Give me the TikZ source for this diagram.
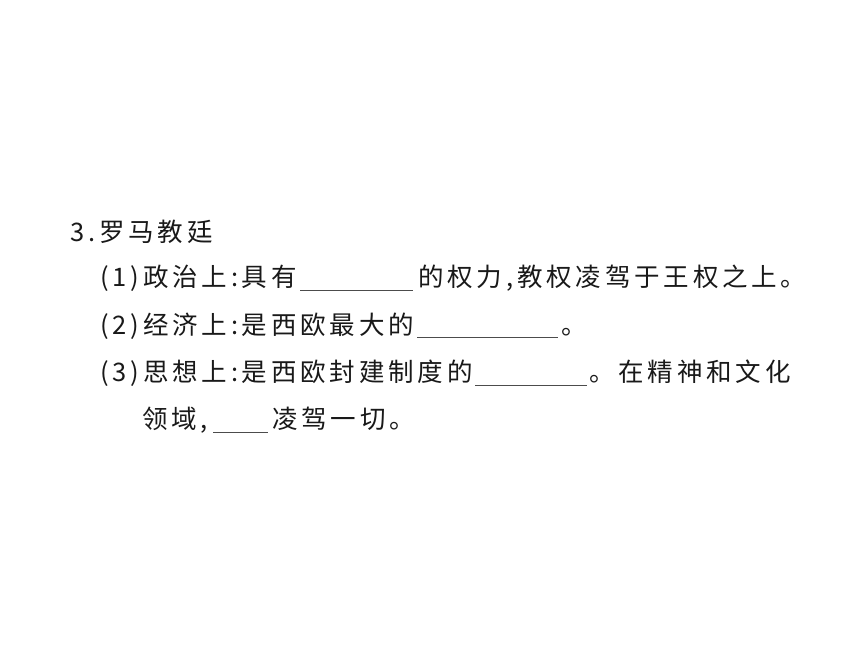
\documentclass[tikz,border=0pt]{standalone}
\usepackage{fontspec}
\newfontfamily\cjk[LetterSpace=15]{Noto Sans CJK SC}
\begin{document}
\begin{tikzpicture}[x=1pt,y=-1pt,
        tsty/.style={anchor=base west,inner sep=0pt,
            font=\cjk\fontsize{25.5}{30}\selectfont,text=black!90},
        bsty/.style={draw=black!70,line width=0.9pt},
    ]
    \useasboundingbox (0,0) rectangle (860,645);
    \fill[white] (0,0) rectangle (860,645);
    % heading
    \node (l1) at (70,241) [tsty] {3.罗马教廷};
    % item 1
    \node (l2a) at (100,286) [tsty] {(1)政治上:具有};
    \node (l2b) at (418,286) [tsty] {的权力,教权凌驾于王权之上。};
    \draw[bsty] (300,290) -- (413,290);
    % item 2
    \node (l3a) at (100,334) [tsty] {(2)经济上:是西欧最大的};
    \node (l3b) at (561,334) [tsty] {。};
    \draw[bsty] (417,337) -- (558,337);
    % item 3
    \node (l4a) at (100,381) [tsty] {(3)思想上:是西欧封建制度的};
    \node (l4b) at (589,381) [tsty] {。在精神和文化};
    \draw[bsty] (475,385) -- (587,385);
    \node (l5a) at (142,428) [tsty] {领域,};
    \node (l5b) at (272,428) [tsty] {凌驾一切。};
    \draw[bsty] (213,432) -- (268,432);
\end{tikzpicture}
\end{document}
